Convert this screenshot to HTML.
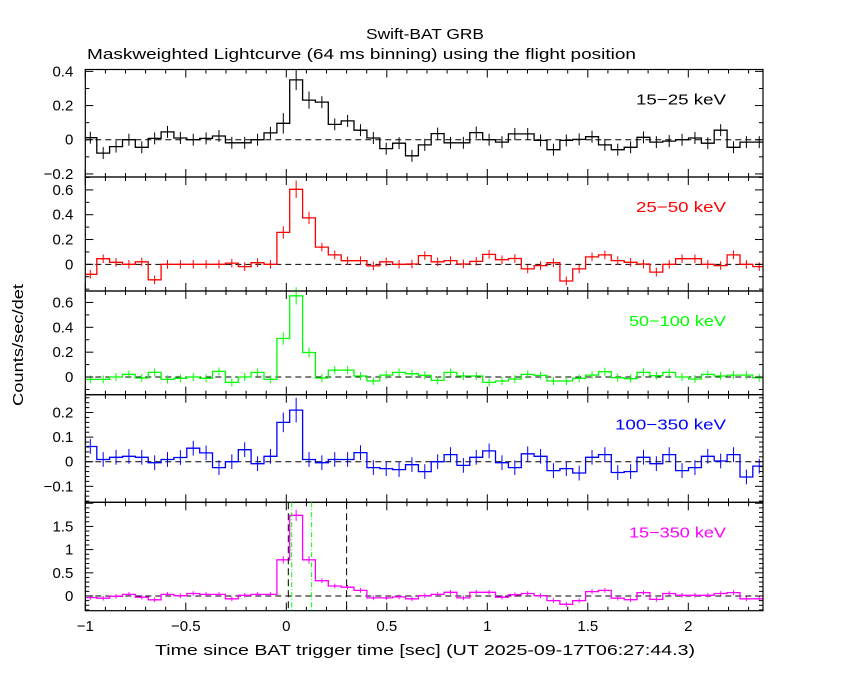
<!DOCTYPE html>
<html><head><meta charset="utf-8"><style>
body{margin:0;background:#fff}
svg{display:block;font-family:"Liberation Sans","DejaVu Sans",sans-serif}
</style></head><body>
<svg id="chart" width="850" height="680" viewBox="0 0 850 680">
<text x="425" y="39" text-anchor="middle" font-size="15" textLength="118" lengthAdjust="spacingAndGlyphs">Swift-BAT GRB</text>
<text x="87" y="59" font-size="15" textLength="549" lengthAdjust="spacingAndGlyphs">Maskweighted Lightcurve (64 ms binning) using the flight position</text>
<text transform="translate(23,345) rotate(-90)" text-anchor="middle" font-size="15" textLength="122" lengthAdjust="spacingAndGlyphs">Counts/sec/det</text>
<text x="425" y="655" text-anchor="middle" font-size="15" textLength="540" lengthAdjust="spacingAndGlyphs">Time since BAT trigger time [sec] (UT 2025-09-17T06:27:44.3)</text>
</svg>
<script>
const binStart = -1.007;
const binWidth = 0.064;
const v1525 = [0.012,-0.078,-0.04,0,-0.044,0.008,0.046,0.01,0,0.008,0.022,-0.018,-0.018,0,0.04,0.096,0.35,0.232,0.22,0.09,0.11,0.056,0.01,-0.052,-0.02,-0.094,-0.03,0.036,-0.018,-0.018,0.042,0,-0.014,0.034,0.034,-0.004,-0.058,-0.004,0.002,0.018,-0.03,-0.058,-0.044,0.014,-0.014,-0.008,0,0.01,-0.02,0.056,-0.044,-0.014,-0.014];
const v2550 = [-0.08,0.045,0.016,0,0.02,-0.125,0,0,0,0,0,0.01,-0.018,0.013,0,0.257,0.605,0.374,0.139,0.076,0.029,0.029,-0.013,0.02,0,0.003,0.07,0.02,0.03,0.003,0.024,0.08,0.037,0.047,-0.037,-0.01,0.013,-0.134,-0.037,0.06,0.076,0.03,0.016,0.003,-0.063,0,0.045,0.045,0,-0.01,0.076,0,-0.018];
const v50100 = [-0.019,-0.019,0,0.021,-0.008,0.037,-0.019,-0.01,0,-0.01,0.045,-0.043,0,0.037,-0.019,0.31,0.653,0.197,-0.008,0.056,0.056,0.008,-0.032,0.016,0.037,0.027,0.013,-0.027,0.037,0.008,0.008,-0.043,-0.032,-0.016,0.021,0.013,-0.032,-0.032,-0.01,0.016,0.043,-0.005,-0.013,0.037,0.011,0.037,0,-0.016,0.021,0.008,0.016,0.016,-0.005];
const v100350 = [0.062,0.009,0.018,0.022,0.018,-0.004,0.009,0.017,0.055,0.036,-0.024,0,0.049,-0.008,0.022,0.16,0.21,0.009,-0.004,0.009,0.009,0.037,-0.024,-0.028,-0.032,-0.012,-0.04,0,0.029,-0.015,0.018,0.044,-0.004,-0.024,0.032,0.022,-0.036,-0.028,-0.046,0.018,0.029,-0.044,-0.04,0.018,-0.008,0.029,-0.036,-0.024,0.022,0.003,0.029,-0.062,-0.018];
const v15350 = [-0.034,-0.047,-0.007,0.034,-0.027,-0.081,0.034,0.007,0.054,0.034,0.034,-0.06,0.014,0.034,0.034,0.78,1.74,0.78,0.33,0.216,0.19,0.12,-0.04,-0.04,-0.02,-0.06,0.007,0.034,0.08,-0.04,0.08,0.08,-0.027,0.027,0.054,0.007,-0.1,-0.18,-0.1,0.095,0.12,-0.047,-0.08,0.074,-0.074,0.054,0.014,0.014,0.014,0.054,0.074,-0.06,-0.06];
const errBase = [0.035,0.035,0.032,0.03,0.05];
const errPeak = [[0.06,0.06,0.05],[0.05,0.07,0.05],[0.05,0.07,0.04],[0.04,0.05,0.03],[0.08,0.12,0.08]];
const bandLabels = ["15\u221225 keV","25\u221250 keV","50\u2212100 keV","100\u2212350 keV","15\u2212350 keV"];
const bandLabelWidths = [90,90,97,111,97];
const yTickLabels = [["0.4","0.2","0","\u22120.2"],["0.6","0.4","0.2","0"],["0.6","0.4","0.2","0"],["0.2","0.1","0","\u22120.1"],["1.5","1","0.5","0"]];
const yTickValues = [[0.4,0.2,0,-0.2],[0.6,0.4,0.2,0],[0.6,0.4,0.2,0],[0.2,0.1,0,-0.1],[1.5,1,0.5,0]];
const xTickValues = [-1,-0.5,0,0.5,1,1.5,2];
const xTickLabels = ["\u22121","\u22120.5","0","0.5","1","1.5","2"];
const tLines = [0.01,0.30];
const t90Lines = [0.027,0.126];

const series = [v1525,v2550,v50100,v100350,v15350];
const colors = ["#000","#f00","#0f0","#00f","#f0f"];
const panels = [{top:69.5,bot:177,min:-0.218,max:0.411,minor:0.1},{top:177,bot:291,min:-0.215,max:0.704,minor:0.1},{top:291,bot:394.7,min:-0.142,max:0.692,minor:0.1},{top:394.7,bot:502.3,min:-0.165,max:0.2725,minor:0.02},{top:502.3,bot:610.7,min:-0.317,max:2.02,minor:0.1}];
const X0=85.3,X1=763,T0=-1,T1=-1+(763-85.3)/201;
const NS="http://www.w3.org/2000/svg";
const svg=document.getElementById('chart');
function xs(t){return X0+(t-T0)/(T1-T0)*(X1-X0);}
function mk(tag,attrs,parent){const e=document.createElementNS(NS,tag);for(const k in attrs)e.setAttribute(k,attrs[k]);(parent||svg).appendChild(e);return e;}
function clampT(t){return Math.max(T0,Math.min(T1,t));}

panels.forEach((p,pi)=>{
  const ys=v=>p.bot-(v-p.min)/(p.max-p.min)*(p.bot-p.top);
  const g=mk('g',{});
  
  
  const z=mk('line',{x1:X0,x2:X1,y1:ys(0),y2:ys(0),stroke:'#000','stroke-dasharray':'6,4','stroke-width':1},g);
  
  
  const vals=series[pi];
  let d='';
  vals.forEach((v,i)=>{
    const a=clampT(binStart+i*binWidth), b=clampT(binStart+(i+1)*binWidth);
    d+=(i===0?'M':'L')+xs(a).toFixed(1)+','+ys(v).toFixed(1)+'L'+xs(b).toFixed(1)+','+ys(v).toFixed(1);
  });
  const path=mk('path',{d:d,fill:'none',stroke:colors[pi],'stroke-width':1.3},g);
  
  
  vals.forEach((v,i)=>{
    const c=binStart+(i+0.5)*binWidth;
    if(c>T1)return;
    let e=errBase[pi];
    if(i>=15&&i<=17)e=errPeak[pi][i-15];
    const eb=mk('line',{x1:xs(c),x2:xs(c),y1:ys(v-e),y2:ys(v+e),stroke:colors[pi],'stroke-width':1},g);
    
    
  });
  const fr=mk('rect',{x:X0,y:p.top,width:X1-X0,height:p.bot-p.top,fill:'none',stroke:'#000','stroke-width':1.2},g);
  
  
  for(let k=-10;k<=23;k++){
    const t=k/10; if(t<T0||t>T1)continue;
    const major=(k%5===0); const L=major?8:4;
    mk('line',{x1:xs(t),x2:xs(t),y1:p.top,y2:p.top+L,stroke:'#000'},g);
    mk('line',{x1:xs(t),x2:xs(t),y1:p.bot,y2:p.bot-L,stroke:'#000'},g);
  }
  const step=p.minor;
  for(let k=Math.ceil(p.min/step);k*step<=p.max;k++){
    const v=k*step; const y=ys(v);
    const isMaj=yTickValues[pi].some(m=>Math.abs(m-v)<1e-9)||(pi===4&&Math.abs(v*2-Math.round(v*2))<1e-9);
    const L=isMaj?8:4;
    mk('line',{x1:X0,x2:X0+L,y1:y,y2:y,stroke:'#000'},g);
    mk('line',{x1:X1,x2:X1-L,y1:y,y2:y,stroke:'#000'},g);
  }
  yTickValues[pi].forEach((v,j)=>{
    const t=mk('text',{x:X0-12,y:ys(v)+5,'text-anchor':'end','font-size':15},g);
    t.textContent=yTickLabels[pi][j];
    
    
  });
  const bl=mk('text',{x:726,y:p.top+35,'text-anchor':'end','font-size':15,fill:colors[pi],textLength:bandLabelWidths[pi],lengthAdjust:'spacingAndGlyphs'},g);
  bl.textContent=bandLabels[pi];
  
  
  if(pi===4){
    tLines.forEach(t=>{
      const l=mk('line',{x1:xs(t),x2:xs(t),y1:p.top,y2:p.bot,stroke:'#000','stroke-dasharray':'7,4'},g);
      
      
    });
    t90Lines.forEach(t=>{
      const l=mk('line',{x1:xs(t),x2:xs(t),y1:p.top,y2:p.bot,stroke:'#0f0','stroke-dasharray':'5,2,1,2'},g);
      
      
    });
  }
});
xTickValues.forEach((t,i)=>{
  const e=mk('text',{x:xs(t),y:631,'text-anchor':'middle','font-size':15});
  e.textContent=xTickLabels[i];
  
  
});
</script>
</body></html>
